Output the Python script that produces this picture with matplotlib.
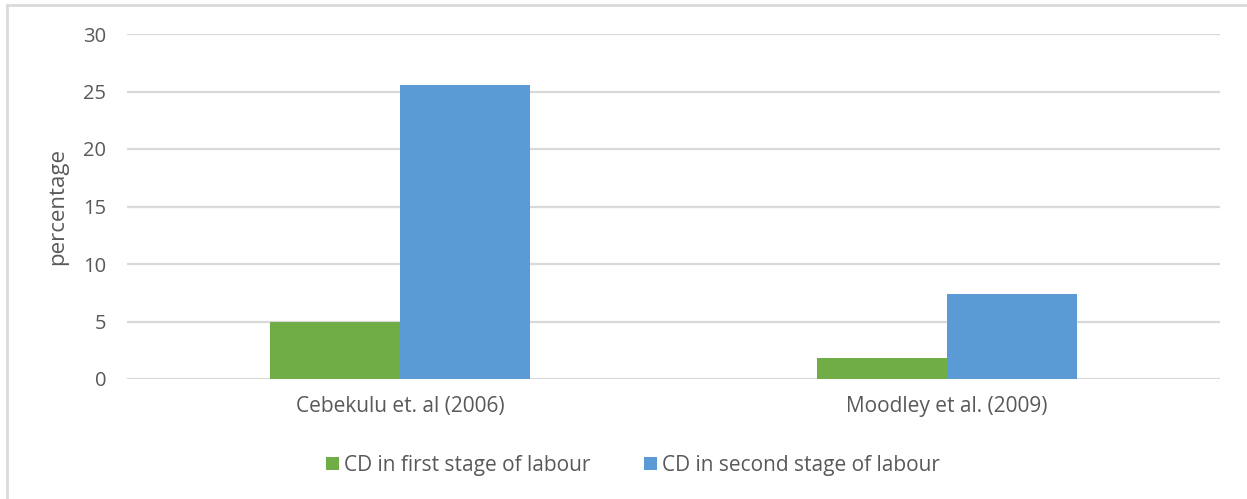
import matplotlib.pyplot as plt
import numpy as np
from matplotlib.patches import Rectangle

# values
studies = ["Cebekulu et. al (2006)", "Moodley et al. (2009)"]
first_stage = [5.0, 1.8]
second_stage = [25.6, 7.4]
series_names = ["CD in first stage of labour", "CD in second stage of labour"]
yticks = [0, 5, 10, 15, 20, 25, 30]

GREEN = "#70ad47"
BLUE = "#5b9bd5"
GRID = "#d9d9d9"
TEXT = "#595959"

plt.rcParams["font.family"] = ["Open Sans", "DejaVu Sans"]

fig = plt.figure(figsize=(12.47, 4.99), dpi=100)
ax = fig.add_axes([127 / 1247, 1 - 379 / 499, (1220 - 127) / 1247, (379 - 34) / 499])

# outer chart border (left and top visible in the crop)
fig.patches.append(Rectangle((7 / 1247, -0.1), 1.2, 1 - 5 / 499 + 0.1,
                             transform=fig.transFigure, fill=False,
                             edgecolor=GRID, lw=2))

x = np.arange(len(studies))
w = 0.238
ax.bar(x - w / 2, first_stage, w, color=GREEN, label=series_names[0], zorder=3)
ax.bar(x + w / 2, second_stage, w, color=BLUE, label=series_names[1], zorder=3)

ax.set_xlim(-0.5, 1.5)
ax.set_ylim(0, 30)
ax.set_yticks(yticks)
ax.yaxis.grid(True, color=GRID, lw=1.6, zorder=0)
ax.set_axisbelow(True)
for s in ax.spines.values():
    s.set_visible(False)
ax.tick_params(axis="both", length=0, colors=TEXT, labelsize=14.5)
ax.tick_params(axis="y", pad=15)
ax.tick_params(axis="x", pad=12)
ax.set_xticks(x)
ax.set_xticklabels(studies, fontsize=15)
ax.set_ylabel("percentage", color=TEXT, fontsize=16, labelpad=11)

leg = fig.legend(loc="center", bbox_to_anchor=(633 / 1247, 1 - 465 / 499), ncol=2,
                 frameon=False, fontsize=15, handlelength=0.6, handleheight=0.6,
                 handletextpad=0.25, columnspacing=2.6)
for t in leg.get_texts():
    t.set_color(TEXT)

fig.savefig("out.png", dpi=100)
